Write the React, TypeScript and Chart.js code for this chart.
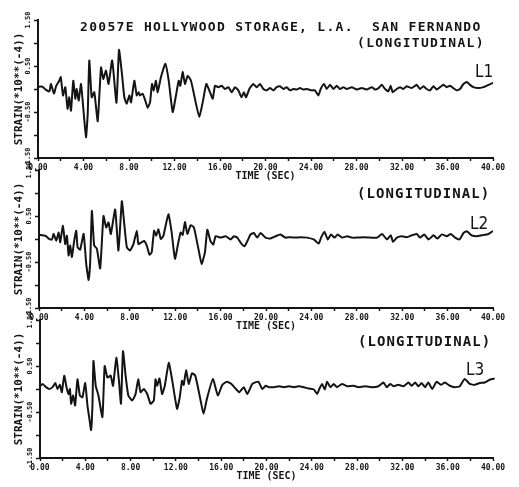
import React, { useEffect, useRef } from 'react';
import { Chart, registerables } from 'chart.js';

Chart.register(...registerables);

// ---------- data ----------
const chartTitle = '20057E HOLLYWOOD STORAGE, L.A.  SAN FERNANDO';
const componentLabel = '(LONGITUDINAL)';
const traceNames = ['L1', 'L2', 'L3'];
const xAxisTitle = 'TIME (SEC)';
const yAxisTitle = 'STRAIN(*10**(-4))';
const timeMin = 0;
const timeMax = 40;
const timeStep = 2;
const timeLabelEvery = 4;
const strainMin = -1.5;
const strainMax = 1.5;
const strainStep = 0.5;
const strainLabels = [1.5, 0.5, -0.5, -1.5];

const l1Time = [
  0, 0.4, 0.7, 1.0, 1.14, 1.4, 1.6, 1.87, 2.0, 2.2,
  2.4, 2.6, 2.75, 2.9, 3.1, 3.28, 3.4, 3.58, 3.78, 4.0,
  4.22, 4.37, 4.51, 4.72, 4.95, 5.25, 5.54, 5.74, 5.98, 6.2,
  6.52, 6.9, 7.12, 7.38, 7.59, 7.8, 8.03, 8.18, 8.47, 8.68,
  8.85, 8.97, 9.2, 9.43, 9.64, 9.85, 10.02, 10.17, 10.37, 10.52,
  10.81, 11.2, 11.49, 11.84, 12.13, 12.37, 12.51, 12.72, 12.92, 13.16,
  13.45, 13.89, 14.18, 14.48, 14.8, 15.12, 15.36, 15.56, 15.85, 16.15,
  16.44, 16.73, 17.03, 17.32, 17.61, 17.9, 18.1, 18.29, 18.58, 18.93,
  19.22, 19.52, 19.81, 20.1, 20.4, 20.7, 20.98, 21.27, 21.57, 21.86,
  22.15, 22.45, 22.74, 23.03, 23.33, 23.62, 24.06, 24.35, 24.65, 24.85,
  25.14, 25.38, 25.67, 25.97, 26.26, 26.55, 26.85, 27.14, 27.58, 28.02,
  28.46, 28.9, 29.34, 29.63, 29.93, 30.22, 30.51, 30.8, 31.0, 31.18,
  31.53, 31.82, 32.12, 32.41, 32.85, 33.29, 33.58, 33.88, 34.17, 34.46,
  34.76, 35.05, 35.34, 35.64, 35.93, 36.22, 36.51, 36.81, 37.1, 37.4,
  37.69, 37.98, 38.27, 38.71, 39.15, 39.6, 40.0, 40.45,
];
const l1Strain = [
  0.05, 0.05, -0.02, -0.05, 0.11, -0.1, 0.07, 0.18, 0.26, -0.14,
  0.04, -0.43, -0.18, -0.47, 0.18, -0.21, 0.0, -0.25, 0.11, -0.47,
  -1.05, -0.54, 0.62, -0.18, -0.07, -0.7, 0.47, 0.22, 0.4, 0.11,
  0.62, -0.3, 0.85, 0.33, -0.18, -0.32, -0.14, -0.29, 0.18, -0.14,
  -0.07, -0.14, -0.1, -0.25, -0.41, -0.29, 0.11, -0.03, 0.18, -0.07,
  0.26, 0.55, 0.18, -0.5, -0.14, 0.18, 0.07, 0.37, 0.11, 0.29,
  0.18, -0.32, -0.61, -0.29, 0.11, -0.07, -0.21, 0.07, 0.04, 0.07,
  0.0, 0.04, -0.07, 0.04, -0.03, -0.18, -0.07, -0.18, 0.0, 0.11,
  0.04, 0.11, 0.0, -0.03, 0.02, -0.03, 0.04, 0.06, 0.0, 0.04,
  -0.03, 0.0, -0.01, 0.02, -0.01, 0.0, -0.03, -0.03, -0.14, 0.0,
  0.11, 0.0, 0.09, 0.0, 0.07, 0.0, 0.04, 0.0, 0.04, -0.01,
  0.02, -0.01, 0.04, -0.01, 0.02, 0.09, 0.0, -0.05, 0.07, -0.07,
  0.0, 0.04, 0.0, 0.06, 0.02, 0.09, 0.0, 0.06, 0.0, -0.03,
  0.06, -0.01, 0.04, 0.09, 0.04, 0.07, 0.02, -0.03, 0.0, 0.11,
  0.15, 0.09, 0.04, 0.02, 0.04, 0.09, 0.13, 0.09,
];

const l2Time = [
  0, 0.56, 0.85, 1.14, 1.29, 1.52, 1.73, 1.87, 2.11, 2.31,
  2.46, 2.61, 2.75, 2.9, 3.1, 3.28, 3.4, 3.63, 3.93, 4.16,
  4.37, 4.51, 4.66, 4.86, 5.1, 5.39, 5.68, 5.92, 6.12, 6.33,
  6.71, 7.0, 7.3, 7.5, 7.74, 8.03, 8.32, 8.62, 8.76, 9.05,
  9.26, 9.49, 9.73, 9.93, 10.14, 10.32, 10.52, 10.73, 10.96, 11.4,
  11.69, 11.98, 12.28, 12.48, 12.66, 12.86, 13.07, 13.36, 13.65, 14.04,
  14.33, 14.62, 14.83, 15.12, 15.36, 15.56, 16.0, 16.44, 16.88, 17.17,
  17.47, 17.76, 18.1, 18.35, 18.64, 18.93, 19.22, 19.52, 19.96, 20.4,
  20.84, 21.27, 21.71, 22.15, 22.59, 23.03, 23.62, 24.2, 24.65, 24.85,
  25.14, 25.44, 25.73, 26.03, 26.32, 26.7, 27.14, 27.58, 28.02, 28.6,
  29.2, 29.8, 30.22, 30.66, 31.0, 31.18, 31.53, 31.97, 32.41, 32.85,
  33.29, 33.58, 33.94, 34.32, 34.76, 35.1, 35.49, 35.93, 36.28, 36.66,
  37.04, 37.4, 37.69, 38.12, 38.56, 39.0, 39.6, 40.0, 40.6,
];
const l2Strain = [
  0.09, 0.07, 0.01, -0.01, 0.11, -0.04, 0.14, -0.07, 0.29, -0.11,
  0.07, -0.36, -0.14, -0.39, -0.04, 0.18, -0.18, -0.23, 0.11, -0.54,
  -0.89, -0.5, 0.61, -0.14, -0.21, -0.64, 0.5, 0.25, 0.36, 0.11,
  0.64, -0.25, 0.82, 0.36, -0.18, -0.25, -0.11, 0.18, -0.11, -0.07,
  -0.04, -0.14, -0.34, -0.29, 0.18, 0.07, 0.21, 0.0, 0.07, 0.54,
  0.14, -0.43, -0.07, 0.14, 0.09, 0.37, 0.11, 0.3, 0.25, -0.21,
  -0.54, -0.29, 0.2, -0.05, -0.12, 0.06, 0.03, 0.06, -0.01, 0.06,
  0.03, -0.08, -0.16, -0.05, 0.1, 0.13, 0.03, 0.13, 0.03, 0.01,
  0.06, 0.1, 0.03, 0.04, 0.03, 0.04, 0.03, -0.01, -0.1, 0.03,
  0.16, -0.01, 0.1, 0.03, 0.1, 0.03, 0.06, 0.03, 0.03, 0.04,
  0.03, 0.03, 0.11, -0.01, 0.08, -0.06, 0.03, 0.06, 0.04, 0.08,
  0.11, 0.03, 0.1, -0.01, 0.08, 0.01, 0.1, 0.06, 0.11, 0.03,
  -0.01, 0.13, 0.17, 0.08, 0.06, 0.08, 0.11, 0.17, 0.08,
];

const l3Time = [
  0, 0.23, 0.53, 0.82, 1.11, 1.35, 1.55, 1.76, 1.93, 2.14,
  2.34, 2.52, 2.64, 2.75, 2.93, 3.1, 3.31, 3.52, 3.75, 3.99,
  4.19, 4.34, 4.51, 4.63, 4.72, 4.92, 5.16, 5.51, 5.71, 5.95,
  6.24, 6.45, 6.74, 6.97, 7.15, 7.33, 7.56, 7.8, 8.15, 8.44,
  8.67, 8.88, 9.17, 9.47, 9.76, 10.05, 10.2, 10.34, 10.55, 10.78,
  11.02, 11.37, 11.66, 12.1, 12.34, 12.54, 12.69, 12.9, 13.13, 13.42,
  13.71, 14.15, 14.44, 14.75, 15.27, 15.7, 16.1, 16.5, 16.9, 17.3,
  17.6, 18.0, 18.3, 18.75, 19.28, 19.63, 19.93, 20.22, 20.66, 21.1,
  21.54, 21.98, 22.42, 22.86, 23.3, 23.74, 24.18, 24.47, 24.68, 24.91,
  25.15, 25.35, 25.64, 25.93, 26.23, 26.67, 27.11, 27.69, 28.13, 28.72,
  29.3, 29.89, 30.33, 30.62, 30.92, 31.21, 31.65, 32.09, 32.53, 32.83,
  33.12, 33.41, 33.7, 34.0, 34.29, 34.64, 35.02, 35.4, 35.75, 36.19,
  36.63, 37.07, 37.5, 37.95, 38.39, 38.83, 39.27, 39.71, 40.15, 40.87,
];
const l3Strain = [
  0.06, 0.11, 0.04, 0.0, 0.04, 0.13, 0.0, 0.09, -0.07, 0.29,
  0.04, -0.11, 0.0, -0.32, -0.14, -0.36, 0.21, -0.14, -0.18, 0.13,
  -0.36, -0.61, -0.89, -0.36, 0.61, 0.07, -0.14, -0.61, 0.5, 0.25,
  0.29, 0.07, 0.68, 0.18, -0.32, 0.82, 0.29, -0.14, -0.25, -0.11,
  0.21, -0.07, 0.0, -0.11, -0.32, -0.25, 0.21, 0.07, 0.23, -0.11,
  0.07, 0.57, 0.21, -0.43, -0.18, 0.18, 0.09, 0.41, 0.11, 0.34,
  0.29, -0.21, -0.54, -0.2, 0.22, -0.14, 0.09, 0.16, 0.11, 0.0,
  -0.07, 0.04, -0.11, 0.11, 0.16, 0.0, 0.07, 0.04, 0.04, 0.06,
  0.04, 0.06, 0.04, 0.06, 0.04, 0.01, -0.01, -0.11, 0.01, 0.11,
  -0.01, 0.16, 0.04, 0.11, 0.04, 0.11, 0.06, 0.07, 0.04, 0.06,
  0.04, 0.06, 0.14, 0.04, 0.11, 0.06, 0.09, 0.06, 0.14, 0.07,
  0.14, 0.06, 0.13, 0.04, 0.14, 0.0, 0.16, 0.09, 0.14, 0.07,
  0.04, 0.06, 0.22, 0.11, 0.09, 0.13, 0.14, 0.2, 0.22, 0.09,
];

// ---------- layout / style ----------
const W = 519;
const H = 487;
const INK = '#141414';
const MONO = '"DejaVu Sans Mono", "Liberation Mono", monospace';
const NARROW = '"Liberation Sans Narrow", "DejaVu Sans Condensed", "Liberation Sans", sans-serif';
const PLOT_RIGHT = 493;
const PLOT_TOP = 20;
const PLOT_BOTTOM = 158;

type PanelProps = {
  times: number[];
  strain: number[];
  top: number;
  height: number;
  axisLeft: number;
};

function Panel({ times, strain, top, height, axisLeft }: PanelProps) {
  const ref = useRef<HTMLCanvasElement | null>(null);
  useEffect(() => {
    if (!ref.current) return;
    const n = Math.min(times.length, strain.length);
    const points = [] as { x: number; y: number }[];
    for (let i = 0; i < n; i++) points.push({ x: times[i], y: strain[i] });
    const chart = new Chart(ref.current, {
      type: 'line',
      data: {
        datasets: [
          {
            data: points,
            borderColor: INK,
            borderWidth: 2,
            pointRadius: 0,
            tension: 0.15,
            fill: false,
            clip: false as any,
          },
        ],
      },
      options: {
        animation: false,
        responsive: false,
        maintainAspectRatio: false,
        events: [],
        layout: { padding: { top: PLOT_TOP, right: W - PLOT_RIGHT, left: 0, bottom: 0 } },
        plugins: {
          legend: { display: false },
          tooltip: { enabled: false },
          title: { display: false },
        },
        scales: {
          x: {
            type: 'linear',
            min: timeMin,
            max: timeMax,
            ticks: {
              stepSize: timeStep,
              autoSkip: false,
              minRotation: 0,
              maxRotation: 0,
              color: INK,
              padding: 2,
              font: { family: MONO, size: 8, weight: 'bold' },
              callback: (v: any) => (Math.abs(Number(v) % timeLabelEvery) < 1e-6 ? Number(v).toFixed(2) : ''),
            },
            grid: { drawOnChartArea: false, drawTicks: true, tickLength: 3, tickWidth: 1.5, tickColor: INK },
            border: { display: true, color: INK, width: 2 },
            title: {
              display: true,
              text: xAxisTitle,
              color: INK,
              font: { family: MONO, size: 10, weight: 'bold' },
              padding: { top: 0, bottom: height - 185 + 3 },
            },
            afterFit: (s: any) => {
              s.height = height - PLOT_BOTTOM;
            },
          },
          y: {
            type: 'linear',
            min: strainMin,
            max: strainMax,
            ticks: {
              stepSize: strainStep,
              autoSkip: false,
              minRotation: 90,
              maxRotation: 90,
              crossAlign: 'center',
              padding: -4.5,
              color: INK,
              font: { family: MONO, size: 7, weight: 'bold' },
              callback: (v: any) => (strainLabels.some((s) => Math.abs(s - Number(v)) < 1e-6) ? Number(v).toFixed(2) : ''),
            },
            grid: { drawOnChartArea: false, drawTicks: true, tickLength: 4, tickWidth: 1.5, tickColor: INK },
            border: { display: true, color: INK, width: 2 },
            title: {
              display: true,
              text: yAxisTitle,
              color: INK,
              font: { family: MONO, size: 11, weight: 'bold' },
              padding: { top: 13, bottom: 0 },
            },
            afterFit: (s: any) => {
              s.width = axisLeft;
            },
          },
        },
      } as any,
    });
    return () => chart.destroy();
  }, [times, strain, top, height, axisLeft]);
  return (
    <canvas
      ref={ref}
      width={W}
      height={height}
      style={{ position: 'absolute', left: 0, top, width: W, height, display: 'block' }}
    />
  );
}

const textBase: React.CSSProperties = {
  position: 'absolute',
  whiteSpace: 'pre',
  color: INK,
  margin: 0,
};

export default function App() {
  const panels = [
    { times: l1Time, strain: l1Strain, top: 0, height: 185, axisLeft: 38 },
    { times: l2Time, strain: l2Strain, top: 150, height: 185, axisLeft: 39 },
    { times: l3Time, strain: l3Strain, top: 300, height: 187, axisLeft: 40 },
  ];
  return (
    <div style={{ position: 'absolute', left: 0, top: 0, width: W, height: H, background: '#fff', overflow: 'hidden' }}>
      {panels.map((p, i) => (
        <Panel key={i} {...p} />
      ))}
      <div style={{ ...textBase, left: 80, top: 20, font: `bold 13px/13px ${MONO}`, letterSpacing: '1.3px' }}>{chartTitle}</div>
      <div style={{ ...textBase, left: 357, top: 36, font: `bold 13px/13px ${MONO}`, letterSpacing: '1.3px' }}>{componentLabel}</div>
      <div style={{ ...textBase, left: 357, top: 186, font: `bold 14px/14px ${MONO}`, letterSpacing: '1.1px' }}>{componentLabel}</div>
      <div style={{ ...textBase, left: 358, top: 334, font: `bold 14px/14px ${MONO}`, letterSpacing: '1.1px' }}>{componentLabel}</div>
      <div style={{ ...textBase, left: 475, top: 63, font: `17px/17px ${NARROW}` }}>{traceNames[0]}</div>
      <div style={{ ...textBase, left: 470, top: 215, font: `17px/17px ${NARROW}` }}>{traceNames[1]}</div>
      <div style={{ ...textBase, left: 466, top: 361, font: `17px/17px ${NARROW}` }}>{traceNames[2]}</div>
    </div>
  );
}
